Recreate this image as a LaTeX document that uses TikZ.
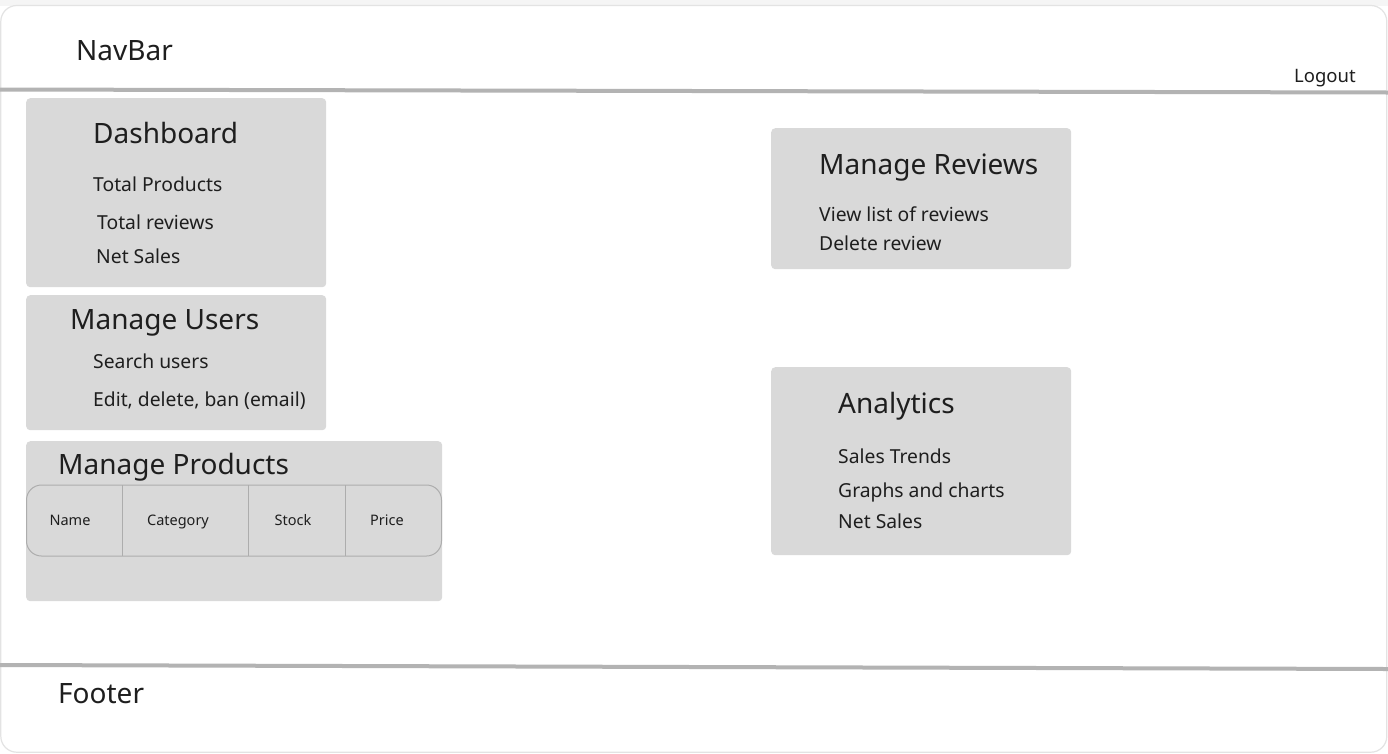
\documentclass[tikz,border=0pt]{standalone}
\usepackage{fontspec}
\setmainfont{Noto Sans}
\definecolor{boxgray}{HTML}{D9D9D9}
\definecolor{linegray}{HTML}{B3B3B3}
\definecolor{framegray}{HTML}{E3E3E3}
\definecolor{txt}{HTML}{1E1E1E}
\definecolor{tblline}{HTML}{ADADAD}
\tikzset{
  panel/.style={fill=boxgray, draw=none, rounded corners=4pt},
  title/.style={anchor=base west, inner sep=0pt, text=txt, font=\fontsize{28}{32}\selectfont},
  item/.style={anchor=base west, inner sep=0pt, text=txt, font=\fontsize{19.3}{23}\selectfont},
  small/.style={anchor=base west, inner sep=0pt, text=txt, font=\fontsize{18.5}{22}\selectfont},
  head/.style={anchor=base, inner sep=0pt, text=txt, font=\fontsize{14.5}{17}\selectfont},
  sepline/.style={draw=linegray, line width=4pt},
}
\begin{document}
\begin{tikzpicture}[x=1pt,y=-1pt]
\useasboundingbox (0,0) rectangle (1388,753);
% top strip and frame
\fill[white] (0,0) rectangle (1388,753);
\fill[black!4] (0,0) rectangle (1388,6);
\draw[framegray, line width=1.2pt, fill=white, rounded corners=16pt] (0.8,5.5) rectangle (1386.8,752.2);
% separators
\coordinate (n1) at (0,89.5); \coordinate (n2) at (1388,92.5);
\coordinate (f1) at (0,665); \coordinate (f2) at (1388,669);
\draw[sepline] (n1) -- (n2);
\draw[sepline] (f1) -- (f2);
% header / footer text
\node[title] (navbar) at (76,60) {NavBar};
\node[small] (logout) at (1294,82) {Logout};
\node[title] (footer) at (58,703) {Footer};
% Dashboard
\node[panel, minimum width=300pt, minimum height=189pt, anchor=north west] (dash) at (26,98) {};
\node[title] (dasht) at (93,143) {Dashboard};
\node[item] (d1) at (93,191) {Total Products};
\node[item] (d2) at (97,229) {Total reviews};
\node[item] (d3) at (96,263) {Net Sales};
% Manage Users
\node[panel, minimum width=300pt, minimum height=135pt, anchor=north west] (users) at (26,295) {};
\node[title] (userst) at (70,329) {Manage Users};
\node[item] (u1) at (93,368) {Search users};
\node[item] (u2) at (93,406) {Edit, delete, ban (email)};
% Manage Products
\node[panel, minimum width=416pt, minimum height=160pt, anchor=north west] (prod) at (26,441) {};
\node[title] (prodt) at (58,474) {Manage Products};
\draw[tblline, line width=1pt, rounded corners=15pt] (26.5,485) rectangle (441.5,556);
\coordinate (c1t) at (122,485); \coordinate (c1b) at (122,556);
\coordinate (c2t) at (248,485); \coordinate (c2b) at (248,556);
\coordinate (c3t) at (345,485); \coordinate (c3b) at (345,556);
\draw[tblline, line width=1pt] (c1t) -- (c1b) (c2t) -- (c2b) (c3t) -- (c3b);
\node[head] (h1) at (70,525) {Name};
\node[head] (h2) at (178,525) {Category};
\node[head] (h3) at (293,525) {Stock};
\node[head] (h4) at (387,525) {Price};
% Manage Reviews
\node[panel, minimum width=300pt, minimum height=141pt, anchor=north west] (rev) at (771,128) {};
\node[title] (revt) at (819,174) {Manage Reviews};
\node[item] (r1) at (819,221) {View list of reviews};
\node[item] (r2) at (819,250) {Delete review};
% Analytics
\node[panel, minimum width=300pt, minimum height=188pt, anchor=north west] (ana) at (771,367) {};
\node[title] (anat) at (838,413) {Analytics};
\node[item] (a1) at (838,463) {Sales Trends};
\node[item] (a2) at (838,497) {Graphs and charts};
\node[item] (a3) at (838,528) {Net Sales};
\end{tikzpicture}
\end{document}
